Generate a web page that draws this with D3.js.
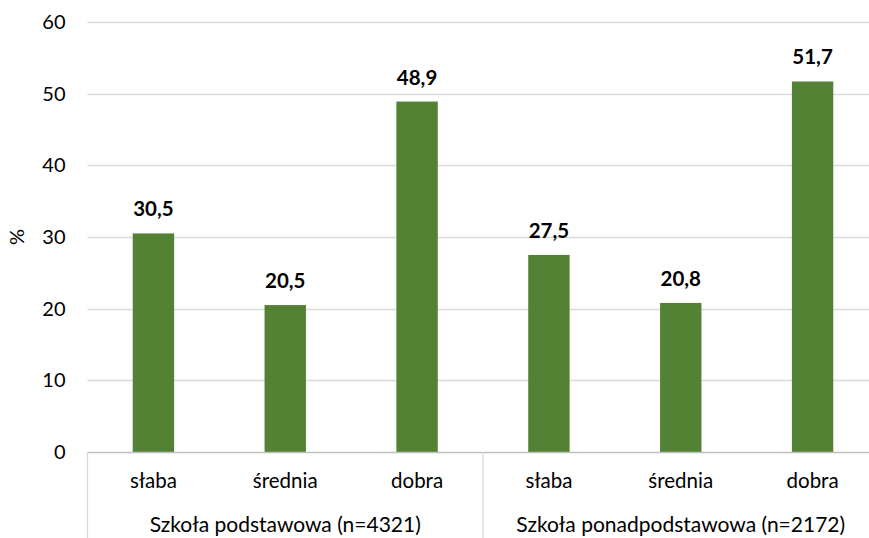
<!DOCTYPE html>
<html><head><meta charset="utf-8">
<script src="https://cdn.jsdelivr.net/npm/d3@7"></script>
<style>body{margin:0;background:#fff}svg{display:block}text{font-family:Lato,"Open Sans",sans-serif}</style>
</head><body><svg id="c" width="869" height="538"></svg>
<script>
const groups = ["Szkoła podstawowa (n=4321)", "Szkoła ponadpodstawowa (n=2172)"];
const categories = ["słaba", "średnia", "dobra"];
const values = [30.5, 20.5, 48.9, 27.5, 20.8, 51.7];
const yTicks = [0, 10, 20, 30, 40, 50, 60];

const svg = d3.select("#c");
const m = {l: 87.5, r: 878.5, t: 22, b: 452};
const keys = [];
groups.forEach((g, gi) => categories.forEach((c, ci) => keys.push(gi + "|" + c)));
const x = d3.scaleBand().domain(keys).range([m.l, m.r]).paddingInner(0.686).paddingOuter(0.343);
const y = d3.scaleLinear().domain([0, 60]).range([m.b, m.t]);

// gridlines
svg.append("g").selectAll("line").data(yTicks.filter(d => d > 0)).join("line")
  .attr("x1", m.l).attr("x2", m.r).attr("y1", d => Math.round(y(d)) + 0.5).attr("y2", d => Math.round(y(d)) + 0.5)
  .attr("stroke", "#d9d9d9").attr("stroke-width", 1.3);

// y axis labels
const ya = d3.axisLeft(y).tickValues(yTicks).tickSize(0).tickPadding(22);
const yg = svg.append("g").attr("transform", `translate(${m.l},0)`).call(ya);
yg.select(".domain").remove();
yg.selectAll("text").attr("font-size", 20).attr("fill", "#000").attr("font-family", "Lato, sans-serif");

svg.append("text").attr("transform", "translate(24,237) rotate(-90)").attr("text-anchor", "middle")
  .attr("font-size", 20).text("%");

// bars
svg.append("g").selectAll("rect").data(values).join("rect")
  .attr("x", (d, i) => x(keys[i])).attr("width", x.bandwidth())
  .attr("y", d => y(d)).attr("height", d => y(0) - y(d)).attr("fill", "#548235");

// value labels
svg.append("g").selectAll("text").data(values).join("text")
  .attr("x", (d, i) => x(keys[i]) + x.bandwidth() / 2).attr("y", d => y(d) - 17)
  .attr("text-anchor", "middle").attr("font-size", 20.5).attr("font-weight", "bold")
  .text(d => d.toFixed(1).replace(".", ","));

// x axis line
svg.append("line").attr("x1", m.l).attr("x2", m.r).attr("y1", m.b + 0.5).attr("y2", m.b + 0.5)
  .attr("stroke", "#bfbfbf").attr("stroke-width", 1.3);

// separators
const seps = [0, categories.length, keys.length].map(i => m.l + i * (m.r - m.l) / keys.length);
svg.append("g").selectAll("line").data(seps).join("line")
  .attr("x1", d => d).attr("x2", d => d).attr("y1", m.b).attr("y2", 538)
  .attr("stroke", "#d9d9d9").attr("stroke-width", 1.3);

// category labels
svg.append("g").selectAll("text").data(keys).join("text")
  .attr("x", d => x(d) + x.bandwidth() / 2).attr("y", 488).attr("text-anchor", "middle")
  .attr("font-size", 20.5).text(d => d.split("|")[1]);

// group labels
svg.append("g").selectAll("text").data(groups).join("text")
  .attr("x", (d, i) => (seps[i] + seps[i + 1]) / 2).attr("y", 532).attr("text-anchor", "middle")
  .attr("font-size", 21).text(d => d);
</script></body></html>
